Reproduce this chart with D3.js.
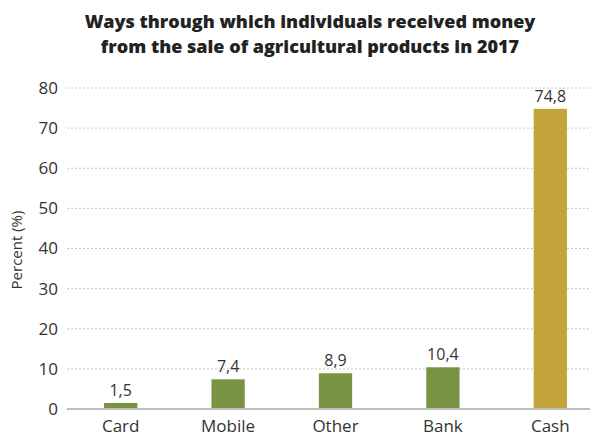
<!DOCTYPE html>
<html><head><meta charset="utf-8">
<script src="https://cdn.jsdelivr.net/npm/d3@7"></script>
<style>body{margin:0;background:#fff;} text{font-family:"Open Sans",Lato,sans-serif;}</style>
</head><body>
<svg id="c" width="591" height="437"></svg>
<script>
const categories = ["Card","Mobile","Other","Bank","Cash"];
const values = [1.5, 7.4, 8.9, 10.4, 74.8];
const valueLabels = ["1,5","7,4","8,9","10,4","74,8"];
const barColors = ["#789342","#789342","#789342","#789342","#c3a53b"];
const yTicks = [0,10,20,30,40,50,60,70,80];
const titleLines = ["Ways through which individuals received money","from the sale of agricultural products in 2017"];

const svg = d3.select("#c");
const x = d3.scaleBand().domain(categories).range([67, 604]).paddingInner(0.69).paddingOuter(0.345);
const y = d3.scaleLinear().domain([0, 80]).range([409, 88]);

svg.selectAll(".title").data(titleLines).enter().append("text")
  .attr("x", 310).attr("y", (d,i)=>28 + i*25).attr("text-anchor","middle")
  .attr("font-size", 18).attr("font-weight", 800).attr("fill","#222").text(d=>d);

svg.selectAll(".grid").data(yTicks.filter(t=>t>0)).enter().append("line")
  .attr("x1", 67).attr("x2", 590).attr("y1", d=>y(d)).attr("y2", d=>y(d))
  .attr("stroke","#c8c8c8").attr("stroke-width",1).attr("stroke-dasharray","2,2");

svg.selectAll(".yt").data(yTicks).enter().append("text")
  .attr("x", 58).attr("y", d=>y(d)).attr("dy","0.35em").attr("text-anchor","end")
  .attr("font-size", 17).attr("fill","#333").text(d=>d);

svg.append("text").attr("transform","translate(22,250) rotate(-90)").attr("text-anchor","middle")
  .attr("font-size", 15).attr("fill","#333").text("Percent (%)");

svg.selectAll(".bar").data(values).enter().append("rect")
  .attr("x",(d,i)=>x(categories[i])).attr("width",x.bandwidth())
  .attr("y",d=>y(d)).attr("height",d=>y(0)-y(d)).attr("fill",(d,i)=>barColors[i]);

svg.append("line").attr("x1",67).attr("x2",590).attr("y1",y(0)).attr("y2",y(0))
  .attr("stroke","#bdbdbd").attr("stroke-width",2);

svg.selectAll(".vl").data(values).enter().append("text")
  .attr("x",(d,i)=>x(categories[i])+x.bandwidth()/2).attr("y",d=>y(d)-7)
  .attr("text-anchor","middle").attr("font-size",16).attr("fill","#333").text((d,i)=>valueLabels[i]);

svg.selectAll(".cl").data(categories).enter().append("text")
  .attr("x",d=>x(d)+x.bandwidth()/2).attr("y",432).attr("text-anchor","middle")
  .attr("font-size",17).attr("fill","#333").text(d=>d);
</script>
</body></html>
